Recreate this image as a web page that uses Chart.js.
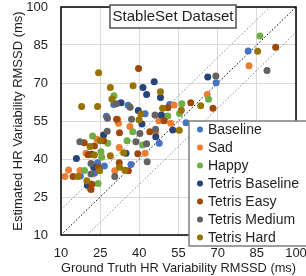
<!DOCTYPE html>
<html>
<head>
<meta charset="utf-8">
<script src="https://cdn.jsdelivr.net/npm/chart.js@4.4.1/dist/chart.umd.min.js"></script>
<style>
  html, body { margin: 0; padding: 0; background: #fff; }
  #wrap { width: 306px; height: 276px; }
</style>
</head>
<body>
<div id="wrap"><canvas id="hrvChart" width="306" height="276"></canvas></div>
<script>
// Series names and [ground truth, estimated] RMSSD pairs (ms)
const seriesNames = ['Baseline', 'Sad', 'Happy', 'Tetris Baseline', 'Tetris Easy', 'Tetris Medium', 'Tetris Hard'];

const baseline = [[30.2,61.5],[35.7,61.2],[42.2,57.9],[27.4,56.9],[51.6,61.5],[50,56.7],[57.9,54.3],[47.6,46.2],[81.7,82.6],[69.4,70.1],[24,38.5],[17.4,33.3],[26.6,37.2],[36.8,37.8],[22.8,34.4]];
const sad = [[82,76.8],[66,65.5],[53.3,61.3],[32,54.1],[31.7,55.6],[36.4,52.8],[47.5,55.1],[52,54.1],[46.3,50.8],[42.2,42.3],[23.8,47.8],[32.3,44.5],[19.6,42.3],[11.5,33.1],[12.9,35.7],[17.3,35.5],[21.1,28.5],[30.6,35.4]];
const happy = [[86.2,88.6],[66.5,63.6],[56.3,61.8],[55.4,58],[50.9,57],[30.3,65],[22.1,49.1],[27.9,46.2],[25.3,42.9],[25.6,40.7],[35.3,47.2],[37.5,50.8],[41.3,45.5],[19,35.5],[24.2,30.3]];
const tetrisBaseline = [[66.2,72.4],[45.7,70.5],[41.4,68.2],[42.8,65.5],[48.1,64.3],[33,62.2],[39.6,59.1],[48.4,57.4],[41,53.8],[52.8,51.4],[46.3,48.8],[26.3,49.5],[21.7,41.9],[34.9,42.3],[15.9,40.2],[22.5,36.7],[20.1,29.6]];
const tetrisEasy = [[92.2,84.1],[39.7,75.7],[68.2,60],[59.7,62.2],[50.9,60.2],[31.3,55.7],[32.4,50.4],[49.5,55.1],[44,50.8],[26.3,47.2],[18.9,46.4],[22.8,45.1],[20.4,41.7],[39.4,42.1],[32.3,38.5],[35.8,35.4],[14.6,33.1],[24.3,36.7],[21.8,30],[21.5,28]];
const tetrisMedium = [[88.9,74.9],[69.3,72.8],[31.2,61.8],[36.5,60.4],[27.8,56.1],[37,55.7],[46,57.4],[40.2,50.1],[46.2,51.7],[27.7,51],[17.2,46.8],[38.7,46.8],[42.8,46],[21.5,38.2],[43,38.9],[21.5,34.1],[30.6,33.1]];
const tetrisHard = [[85.3,82.5],[24.4,74],[28.9,68.2],[37.6,68.9],[48.1,66.5],[29.5,63.7],[17.9,60.7],[24,60.7],[63.5,61],[48.9,60],[56.1,59.2],[40.6,57.8],[39.9,55.5],[55.3,51.3],[25,47.2],[21.1,44.9],[22.8,41.6],[28.9,41.3],[34,42.5],[16.5,33.1],[19.9,31.4],[24.8,35.4],[32.4,36.7],[34.5,35.6]];

// reference lines: y = x and y = x +/- 10
const identityLine = [[10,10],[100,100]];
const upperBand = [[10,20],[90,100]];
const lowerBand = [[20,10],[100,90]];

const axisTicks = [10, 25, 40, 55, 70, 85, 100];

const seriesData = [baseline, sad, happy, tetrisBaseline, tetrisEasy, tetrisMedium, tetrisHard];
const seriesColors = ['#4472C4', '#ED7D31', '#70AD47', '#264478', '#9E480E', '#636363', '#997300'];

const toPoints = (pairs) => pairs.map(([x, y]) => ({ x, y }));

const datasets = seriesData.map((pairs, i) => ({
    label: seriesNames[i],
    data: toPoints(pairs),
    backgroundColor: seriesColors[i],
    borderWidth: 0,
    pointRadius: 3.5,
    order: 10 - i,
}));

const refLine = (pairs, color) => ({
    type: 'line',
    data: toPoints(pairs),
    borderColor: color,
    borderWidth: 1,
    borderDash: [1.5, 2],
    pointRadius: 0,
    fill: false,
    order: 20,
});
datasets.push(refLine(identityLine, '#000'));
datasets.push(refLine(upperBand, '#8a8a8a'));
datasets.push(refLine(lowerBand, '#8a8a8a'));

const FONT = 'Liberation Sans';
const TEXT = '#1f1f1f';

// box round the plot, title box and legend drawn by hand
const decorations = {
    id: 'decorations',
    afterDatasetsDraw(chart) {
        const { ctx, chartArea } = chart;
        ctx.save();
        ctx.strokeStyle = '#000';
        ctx.lineWidth = 1.5;
        ctx.strokeRect(chartArea.left, chartArea.top, chartArea.right - chartArea.left, chartArea.bottom - chartArea.top);
        ctx.restore();
    },
    afterDraw(chart) {
        const { ctx } = chart;
        ctx.save();
        // title box
        ctx.fillStyle = '#fff';
        ctx.fillRect(110, 5, 126, 23);
        ctx.strokeStyle = '#505050';
        ctx.lineWidth = 1.5;
        ctx.strokeRect(110, 5, 126, 23);
        ctx.fillStyle = TEXT;
        ctx.font = '15px "' + FONT + '"';
        ctx.textAlign = 'center';
        ctx.textBaseline = 'middle';
        ctx.fillText('StableSet Dataset', 173, 17);

        // legend
        ctx.fillStyle = '#fff';
        ctx.fillRect(189, 121, 130, 125);
        ctx.strokeStyle = '#7f7f7f';
        ctx.lineWidth = 1.5;
        ctx.strokeRect(189, 121, 130, 125);
        ctx.font = '14px "' + FONT + '"';
        ctx.textAlign = 'left';
        chart.data.datasets.slice(0, seriesNames.length).forEach((ds, i) => {
            const y = 129.5 + i * 18;
            ctx.fillStyle = ds.backgroundColor;
            ctx.beginPath();
            ctx.arc(200, y, 3, 0, Math.PI * 2);
            ctx.fill();
            ctx.fillStyle = TEXT;
            ctx.fillText(ds.label, 208, y + 0.5);
        });
        ctx.restore();
    },
};

const axisBase = {
    type: 'linear',
    min: 10,
    max: 100,
    afterBuildTicks: (scale) => { scale.ticks = axisTicks.map((v) => ({ value: v })); },
    grid: { color: '#d9d9d9', lineWidth: 1, drawTicks: false },
    border: { display: false },
};

new Chart(document.getElementById('hrvChart').getContext('2d'), {
    type: 'scatter',
    data: { datasets },
    options: {
        responsive: false,
        animation: false,
        layout: { padding: { top: 7, right: 10, left: 0, bottom: 0 } },
        plugins: { legend: { display: false }, tooltip: { enabled: false } },
        scales: {
            x: {
                ...axisBase,
                ticks: { color: TEXT, font: { family: FONT, size: 13 }, padding: 11, maxRotation: 0 },
                title: {
                    display: true,
                    text: 'Ground Truth HR Variability RMSSD (ms)',
                    color: TEXT,
                    font: { family: FONT, size: 13, lineHeight: 1.2 },
                    padding: { top: 0, bottom: 0 },
                },
                afterFit: (s) => { s.height = 41; s.paddingLeft = 0; s.paddingRight = 0; },
            },
            y: {
                ...axisBase,
                ticks: { color: TEXT, font: { family: FONT, size: 13 }, padding: 13 },
                title: {
                    display: true,
                    text: 'Estimated HR Variability RMSSD (ms)',
                    color: TEXT,
                    font: { family: FONT, size: 13, lineHeight: 1.2 },
                    padding: { top: 11, bottom: 0 },
                },
                afterFit: (s) => { s.width = 61; s.paddingTop = 0; s.paddingBottom = 0; },
            },
        },
    },
    plugins: [decorations],
});
</script>
</body>
</html>
